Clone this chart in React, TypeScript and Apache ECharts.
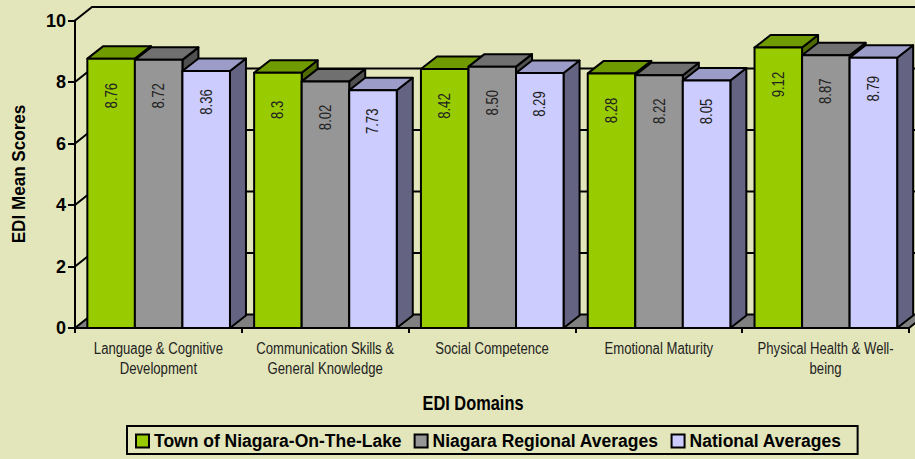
import React, { useEffect, useRef } from "react";
import * as echarts from "echarts";

const categories = [
  "Language & Cognitive\nDevelopment",
  "Communication Skills &\nGeneral Knowledge",
  "Social Competence",
  "Emotional Maturity",
  "Physical Health & Well-\nbeing",
];
const seriesNames = ["Town of Niagara-On-The-Lake", "Niagara Regional Averages", "National Averages"];
const townValues = [8.76, 8.3, 8.42, 8.28, 9.12];
const regionalValues = [8.72, 8.02, 8.5, 8.22, 8.87];
const nationalValues = [8.36, 7.73, 8.29, 8.05, 8.79];
const townLabels = ["8.76", "8.3", "8.42", "8.28", "9.12"];
const regionalLabels = ["8.72", "8.02", "8.50", "8.22", "8.87"];
const nationalLabels = ["8.36", "7.73", "8.29", "8.05", "8.79"];
const yTicks = [0, 2, 4, 6, 8, 10];

const FONT = "'Liberation Sans', Arial, sans-serif";
const BG = "#E3E6BA";
const NARROW_SCALE = 0.82;

const palettes = [
  { front: "#99CC00", top: "#6F9A00", side: "#4F6B00" },
  { front: "#969696", top: "#707070", side: "#505050" },
  { front: "#CCCCFF", top: "#9C9CC8", side: "#646482" },
];

const BAR_OFF = 0.074;
const BAR_W = 0.285;
const BDX = 16;
const BDY = -12.5;
const WDX = 17;
const WDY = -13.5;
const LABEL_OFF = [37, 36, 31];

function makeBarRender(k: number, labels: string[]) {
  const pal = palettes[k];
  return (params: any, api: any) => {
    const ci = api.value(0);
    const v = api.value(1);
    const top = api.coord([ci, v]);
    const base = api.coord([ci, 0]);
    const bw = api.size([1, 0])[0];
    const x0 = top[0] - bw / 2 + bw * (BAR_OFF + BAR_W * k);
    const x1 = x0 + bw * BAR_W;
    const yt = top[1];
    const yb = base[1];
    const stroke = { stroke: "#000", lineWidth: 2, lineJoin: "round" };
    return {
      type: "group",
      children: [
        {
          type: "polygon",
          shape: { points: [[x1, yt], [x1 + BDX, yt + BDY], [x1 + BDX, yb + BDY], [x1, yb]] },
          style: { fill: pal.side, ...stroke },
        },
        {
          type: "polygon",
          shape: { points: [[x0, yt], [x1, yt], [x1 + BDX, yt + BDY], [x0 + BDX, yt + BDY]] },
          style: { fill: pal.top, ...stroke },
        },
        {
          type: "rect",
          shape: { x: x0, y: yt, width: x1 - x0, height: yb - yt },
          style: { fill: pal.front, ...stroke },
        },
        {
          type: "text",
          x: (x0 + x1) / 2,
          y: yt + LABEL_OFF[k],
          rotation: Math.PI / 2,
          scaleX: NARROW_SCALE,
          style: {
            text: labels[ci],
            fill: "#222",
            fontSize: 16,
            fontFamily: FONT,
            align: "center",
            verticalAlign: "middle",
          },
        },
      ],
    };
  };
}

function wallRender(params: any, api: any) {
  const v = api.value(1);
  const bw = api.size([1, 0])[0];
  const left = api.coord([0, v]);
  const right = api.coord([categories.length - 1, v]);
  const xl = left[0] - bw / 2;
  const xr = right[0] + bw / 2;
  const y = left[1];
  const children: any[] = [];
  if (v === 0) {
    children.push({
      type: "polygon",
      shape: { points: [[xl, y], [xr, y], [xr + WDX, y + WDY], [xl + WDX, y + WDY]] },
      style: { fill: "#808080", stroke: "#000", lineWidth: 2 },
    });
  } else {
    children.push({
      type: "polyline",
      shape: { points: [[xl, y], [xl + WDX, y + WDY], [xr + WDX + 20, y + WDY]] },
      style: { stroke: "#000", lineWidth: 2, fill: null },
    });
  }
  return { type: "group", children };
}

function categoryLabelRender(params: any, api: any) {
  const ci = api.value(0);
  const p = api.coord([ci, 0]);
  return {
    type: "text",
    x: p[0],
    y: p[1] + 10.7,
    scaleX: NARROW_SCALE,
    style: {
      text: categories[ci],
      fill: "#222",
      fontSize: 16,
      lineHeight: 20,
      fontFamily: FONT,
      align: "center",
      verticalAlign: "top",
    },
  };
}

export default function App() {
  const ref = useRef<HTMLDivElement>(null);
  useEffect(() => {
    if (!ref.current) return;
    const chart = echarts.init(ref.current, null, { renderer: "svg" });
    const valueSets = [townValues, regionalValues, nationalValues];
    const labelSets = [townLabels, regionalLabels, nationalLabels];
    chart.setOption({
      animation: false,
      backgroundColor: BG,
      grid: { left: 75, right: 6, top: 20.5, bottom: 131 },
      xAxis: {
        type: "category",
        data: categories,
        axisLine: { show: true, lineStyle: { color: "#000", width: 2 } },
        axisTick: { show: true, length: 5, interval: 0, lineStyle: { color: "#000", width: 2 } },
        axisLabel: { show: false },
        splitLine: { show: false },
      },
      yAxis: {
        type: "value",
        min: 0,
        max: 10,
        interval: 2,
        axisLine: { show: true, lineStyle: { color: "#000", width: 2 } },
        axisTick: { show: true, length: 7, lineStyle: { color: "#000", width: 2 } },
        axisLabel: { fontSize: 18, fontWeight: "bold", color: "#000", margin: 9, fontFamily: FONT },
        splitLine: { show: false },
      },
      legend: {
        data: seriesNames,
        left: 127,
        top: 426,
        padding: [6, 16, 4, 8],
        borderColor: "#000",
        borderWidth: 2,
        itemWidth: 13,
        itemHeight: 13,
        itemGap: 12,
        icon: "rect",
        itemStyle: { borderColor: "#000", borderWidth: 2 },
        textStyle: { fontSize: 17.5, fontWeight: "bold", color: "#000", fontFamily: FONT },
      },
      graphic: [
        {
          type: "text",
          x: 473,
          y: 403.5,
          scaleX: 0.84,
          style: {
            text: "EDI Domains",
            fontSize: 19.5,
            fontWeight: "bold",
            fill: "#000",
            fontFamily: FONT,
            align: "center",
            verticalAlign: "middle",
          },
        },
        {
          type: "text",
          x: 18.5,
          y: 174,
          rotation: Math.PI / 2,
          scaleX: 0.9,
          style: {
            text: "EDI Mean Scores",
            fontSize: 19,
            fontWeight: "bold",
            fill: "#000",
            fontFamily: FONT,
            align: "center",
            verticalAlign: "middle",
          },
        },
      ],
      series: [
        {
          type: "custom",
          name: "walls",
          clip: false,
          silent: true,
          z: 1,
          data: yTicks.map((t) => [0, t]),
          encode: { x: 0, y: 1 },
          renderItem: wallRender,
        },
        {
          type: "custom",
          name: "categoryLabels",
          clip: false,
          silent: true,
          z: 1,
          data: categories.map((c, i) => [i, 0]),
          encode: { x: 0, y: 1 },
          renderItem: categoryLabelRender,
        },
        ...valueSets.map((vals, k) => ({
          type: "custom",
          name: seriesNames[k],
          clip: false,
          z: 2,
          itemStyle: { color: palettes[k].front, borderColor: "#000", borderWidth: 2 },
          data: vals.map((v, i) => [i, v]),
          encode: { x: 0, y: 1 },
          renderItem: makeBarRender(k, labelSets[k]),
        })),
      ],
    });
    return () => chart.dispose();
  }, []);
  return <div ref={ref} style={{ position: "fixed", left: 0, top: 0, width: 915, height: 459 }} />;
}
